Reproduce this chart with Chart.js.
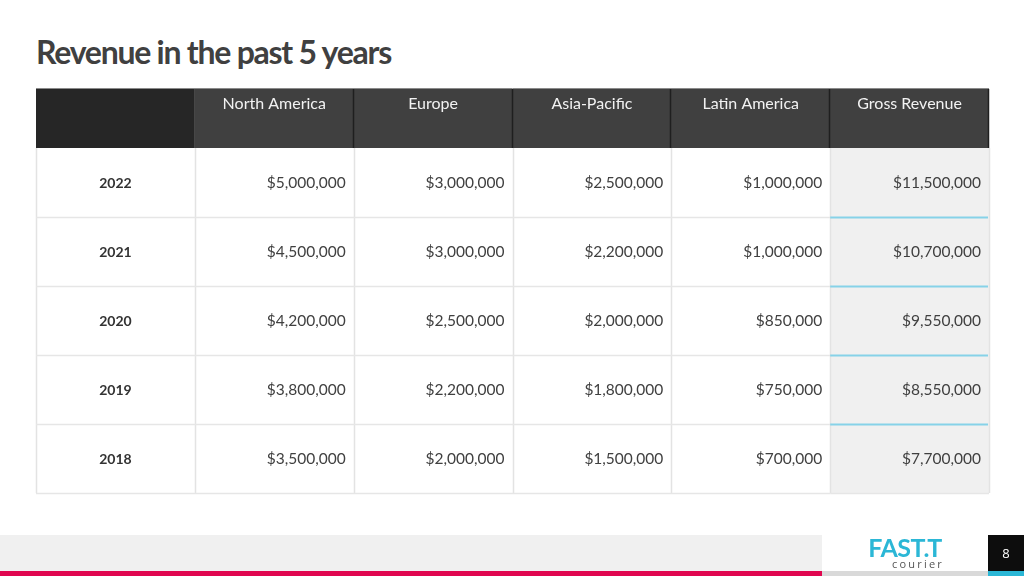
<!DOCTYPE html>
<html>
<head>
<meta charset="utf-8">
<script src="https://cdn.jsdelivr.net/npm/chart.js@4.4.1/dist/chart.umd.min.js"></script>
<style>
  html,body{margin:0;padding:0;background:#fff;width:1024px;height:576px;overflow:hidden;font-family:Lato,"Open Sans",sans-serif;}
  #title{position:absolute;left:36px;top:32px;font:700 32px Lato,sans-serif;letter-spacing:-1.25px;color:#404040;white-space:nowrap;line-height:40px;}
  #wrap{position:absolute;left:0;top:0;width:1024px;height:576px;}
  .fbar{position:absolute;}
  #logo1{position:absolute;left:822px;top:535px;width:166px;text-align:center;font:700 25px Lato,sans-serif;color:#2bb7d6;letter-spacing:-0.5px;line-height:25px;}
  #logo2{position:absolute;left:878px;top:557px;width:80px;text-align:center;font:400 11px "Open Sans",sans-serif;color:#555;letter-spacing:2.2px;line-height:13px;}
  #page{position:absolute;left:988px;top:535px;width:36px;height:36px;color:#fff;font:400 13px "Open Sans",sans-serif;line-height:36px;text-align:center;}
</style>
</head>
<body>
<div id="title">Revenue in the past 5 years</div>
<div id="wrap"><canvas id="c" width="1024" height="576"></canvas></div>
<div class="fbar" style="left:0;top:535px;width:822px;height:36px;background:#f0f0f0;"></div>
<div class="fbar" style="left:0;top:571px;width:822px;height:5px;background:#e0064f;"></div>
<div class="fbar" style="left:822px;top:535px;width:166px;height:36px;background:#ffffff;"></div>
<div class="fbar" style="left:822px;top:571px;width:166px;height:5px;background:#d9d9d9;"></div>
<div class="fbar" style="left:988px;top:535px;width:36px;height:36px;background:#0d0d0d;"></div>
<div class="fbar" style="left:988px;top:571px;width:36px;height:5px;background:#2bb7d6;"></div>
<div id="logo1">FAST.T</div>
<div id="logo2">courier</div>
<div id="page">8</div>
<script>
// ---- data ----
const years = ['2022', '2021', '2020', '2019', '2018'];
const columnHeaders = ['North America', 'Europe', 'Asia-Pacific', 'Latin America', 'Gross Revenue'];
const northAmerica = [5000000, 4500000, 4200000, 3800000, 3500000];
const europe = [3000000, 3000000, 2500000, 2200000, 2000000];
const asiaPacific = [2500000, 2200000, 2000000, 1800000, 1500000];
const latinAmerica = [1000000, 1000000, 850000, 750000, 700000];
const grossRevenue = [11500000, 10700000, 9550000, 8550000, 7700000];

const valueColumns = [northAmerica, europe, asiaPacific, latinAmerica, grossRevenue];

const fmt = v => '$' + v.toLocaleString('en-US');

// datasets: year column (0) + value columns (1..5); each point is a cell centre
const datasets = [];
datasets.push({
  label: '',
  data: years.map((yr, r) => ({ x: 0.5, y: r + 0.5, text: yr })),
  kind: 'year'
});
valueColumns.forEach((col, c) => {
  datasets.push({
    label: columnHeaders[c],
    data: col.map((v, r) => ({ x: c + 1.5, y: r + 0.5, text: fmt(v) })),
    kind: c === valueColumns.length - 1 ? 'gross' : 'value'
  });
});

const HEADER_SPAN = 0.855; // header row height relative to a body row

const tablePlugin = {
  id: 'tablePlugin',
  beforeDatasetsDraw(chart) {
    const { ctx, scales: { x, y } } = chart;
    const nRows = years.length;
    const nCols = datasets.length;
    const X = v => x.getPixelForValue(v);
    const Y = v => y.getPixelForValue(v);
    ctx.save();

    // body cells backgrounds
    chart.data.datasets.forEach(ds => {
      ds.data.forEach(p => {
        const x0 = X(p.x - 0.5), x1 = X(p.x + 0.5);
        const y0 = Y(p.y - 0.5), y1 = Y(p.y + 0.5);
        ctx.fillStyle = ds.kind === 'gross' ? '#f0f0f0' : '#ffffff';
        ctx.fillRect(x0, y0, x1 - x0, y1 - y0);
      });
    });

    // grid lines
    ctx.lineWidth = 1.5;
    ctx.strokeStyle = '#e3e3e3';
    for (let c = 0; c <= nCols; c++) {
      const px = Math.round(X(c)) + 0.5;
      ctx.beginPath();
      ctx.moveTo(px, Y(0));
      ctx.lineTo(px, Y(nRows));
      ctx.stroke();
    }
    for (let r = 1; r <= nRows; r++) {
      const py = Math.round(Y(r)) + 0.5;
      ctx.strokeStyle = '#e6e6e6';
      ctx.beginPath();
      ctx.moveTo(X(0), py);
      ctx.lineTo(X(nCols - 1), py);
      ctx.stroke();
      if (r < nRows) {
        ctx.strokeStyle = '#86d2e8';
        ctx.lineWidth = 2;
        ctx.beginPath();
        ctx.moveTo(X(nCols - 1), py);
        ctx.lineTo(X(nCols) - 1, py);
        ctx.stroke();
        ctx.lineWidth = 1.5;
      } else {
        ctx.beginPath();
        ctx.moveTo(X(nCols - 1), py);
        ctx.lineTo(X(nCols), py);
        ctx.stroke();
      }
    }

    // header row
    const hy0 = Y(-HEADER_SPAN), hy1 = Y(0);
    ctx.fillStyle = '#262626';
    ctx.fillRect(X(0), hy0, X(1) - X(0), hy1 - hy0);
    ctx.fillStyle = '#404040';
    ctx.fillRect(X(1), hy0, X(nCols) - X(1), hy1 - hy0);
    ctx.strokeStyle = '#1f1f1f';
    ctx.lineWidth = 1.5;
    for (let c = 2; c <= nCols; c++) {
      const px = Math.round(X(c)) - 0.5;
      ctx.beginPath();
      ctx.moveTo(px, hy0);
      ctx.lineTo(px, hy1);
      ctx.stroke();
    }
    ctx.strokeStyle = '#8a8a8a';
    ctx.lineWidth = 1;
    ctx.beginPath();
    ctx.moveTo(X(0), Math.round(hy0) - 0.5);
    ctx.lineTo(X(nCols), Math.round(hy0) - 0.5);
    ctx.stroke();

    // header texts
    ctx.fillStyle = '#f2f2f2';
    ctx.font = '400 16px Lato, sans-serif';
    ctx.textAlign = 'center';
    ctx.textBaseline = 'middle';
    columnHeaders.forEach((h, c) => {
      ctx.fillText(h, X(c + 1.5), hy0 + 15);
    });

    // cell texts
    chart.data.datasets.forEach(ds => {
      ds.data.forEach(p => {
        const cy = Y(p.y) + 1;
        if (ds.kind === 'year') {
          ctx.font = '700 14px Lato, sans-serif';
          ctx.fillStyle = '#333333';
          ctx.textAlign = 'center';
          ctx.fillText(p.text, X(p.x), cy);
        } else {
          ctx.font = '400 15.5px Lato, sans-serif';
          ctx.fillStyle = '#404040';
          ctx.textAlign = 'right';
          ctx.fillText(p.text, X(p.x + 0.5) - 8, cy);
        }
      });
    });
    ctx.restore();
  }
};

new Chart(document.getElementById('c'), {
  type: 'scatter',
  data: {
    datasets: datasets.map(d => ({
      label: d.label,
      data: d.data,
      kind: d.kind,
      pointRadius: 0,
      pointHoverRadius: 0,
      showLine: false
    }))
  },
  options: {
    responsive: false,
    animation: false,
    devicePixelRatio: 1,
    layout: { padding: { left: 36, right: 35, top: 89, bottom: 83 } },
    plugins: { legend: { display: false }, tooltip: { enabled: false }, title: { display: false } },
    events: [],
    scales: {
      x: { type: 'linear', min: 0, max: 6, display: false },
      y: { type: 'linear', min: -HEADER_SPAN, max: 5, reverse: true, display: false }
    }
  },
  plugins: [tablePlugin]
});
</script>
</body>
</html>
